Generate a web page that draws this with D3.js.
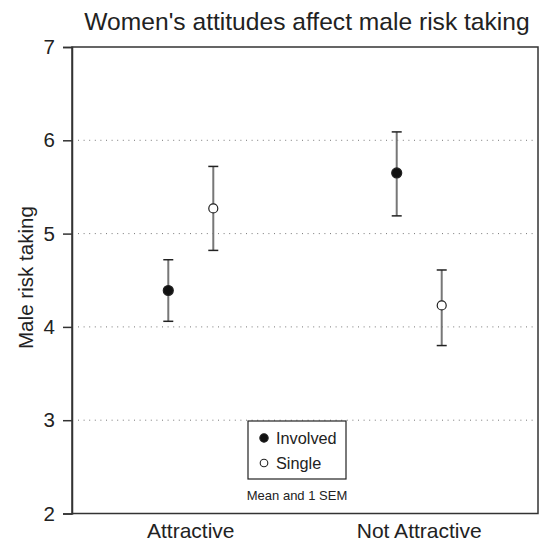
<!DOCTYPE html>
<html>
<head>
<meta charset="utf-8">
<script src="https://cdn.jsdelivr.net/npm/d3@7"></script>
<style>
  body { margin: 0; background: #fff; }
  text { font-family: "Liberation Sans", Arial, Helvetica, sans-serif; fill: #222; }
</style>
</head>
<body>
<div id="chart"></div>
<script>
const categories = ["Attractive", "Not Attractive"];
const groups = ["Involved", "Single"];
const yTicks = [2, 3, 4, 5, 6, 7];
const gridTicks = [3, 4, 5, 6];

const involvedMean = [4.39, 5.65];
const involvedLow = [4.06, 5.19];
const involvedHigh = [4.72, 6.09];

const singleMean = [5.27, 4.23];
const singleLow = [4.82, 3.80];
const singleHigh = [5.72, 4.61];

const width = 542, height = 543;
const plotLeft = 72, plotRight = 538, plotTop = 47, plotBottom = 513.5;

const svg = d3.select("#chart")
    .append("svg")
    .attr("width", width)
    .attr("height", height);

const y = d3.scaleLinear().domain([2, 7]).range([plotBottom, plotTop]);
const x = d3.scalePoint().domain(categories).range([plotLeft, plotRight]).padding(0.52);
const offset = d3.scalePoint().domain(groups).range([-22.5, 22.5]);

// dotted gridlines
svg.append("g")
    .selectAll("line")
    .data(gridTicks)
    .enter()
    .append("line")
    .attr("x1", plotLeft + 6)
    .attr("x2", plotRight - 4)
    .attr("y1", d => y(d))
    .attr("y2", d => y(d))
    .attr("stroke", "#777")
    .attr("stroke-width", 1)
    .attr("stroke-dasharray", "1,4.6");

// frame
svg.append("rect")
    .attr("x", plotLeft)
    .attr("y", plotTop)
    .attr("width", plotRight - plotLeft)
    .attr("height", plotBottom - plotTop)
    .attr("fill", "none")
    .attr("stroke", "#333")
    .attr("stroke-width", 1.5);

// y axis
const yAxis = svg.append("g")
    .attr("transform", `translate(${plotLeft},0)`)
    .call(d3.axisLeft(y).tickValues(yTicks).tickSize(9).tickPadding(8).tickFormat(d3.format("d")));
yAxis.attr("font-family", null).attr("font-size", null);
yAxis.select(".domain").attr("stroke", "#333").attr("stroke-width", 1.5);
yAxis.selectAll(".tick line").attr("stroke", "#333").attr("stroke-width", 1.5);
yAxis.selectAll(".tick text")
    .attr("font-size", 20.5)
    .attr("fill", "#222");

// x labels
svg.append("g")
    .selectAll("text")
    .data(categories)
    .enter()
    .append("text")
    .text(d => d)
    .attr("x", d => x(d))
    .attr("y", 538)
    .attr("text-anchor", "middle")
    .attr("font-size", 21);

// title
svg.append("text")
    .text("Women's attitudes affect male risk taking")
    .attr("x", 307)
    .attr("y", 30)
    .attr("text-anchor", "middle")
    .attr("font-size", 24.6);

// y label
svg.append("text")
    .text("Male risk taking")
    .attr("transform", "translate(33,277.5) rotate(-90)")
    .attr("text-anchor", "middle")
    .attr("font-size", 20.6);

const series = [
    { group: "Involved", mean: involvedMean, low: involvedLow, high: involvedHigh, fill: "#111" },
    { group: "Single", mean: singleMean, low: singleLow, high: singleHigh, fill: "#fff" }
];

const points = [];
series.forEach(s => categories.forEach((c, i) => {
    points.push({ cat: c, group: s.group, mean: s.mean[i], low: s.low[i], high: s.high[i], fill: s.fill });
}));

const px = d => x(d.cat) + offset(d.group);

const bars = svg.append("g")
    .selectAll("g")
    .data(points)
    .enter()
    .append("g");

bars.append("line")
    .attr("x1", px).attr("x2", px)
    .attr("y1", d => y(d.low)).attr("y2", d => y(d.high))
    .attr("stroke", "#777")
    .attr("stroke-width", 2);

bars.selectAll(".cap")
    .data(d => [{ x: px(d), v: d.low }, { x: px(d), v: d.high }])
    .enter()
    .append("line")
    .attr("class", "cap")
    .attr("x1", d => d.x - 5).attr("x2", d => d.x + 5)
    .attr("y1", d => y(d.v)).attr("y2", d => y(d.v))
    .attr("stroke", "#222")
    .attr("stroke-width", 1.5);

bars.append("circle")
    .attr("cx", px)
    .attr("cy", d => y(d.mean))
    .attr("r", d => d.fill === "#fff" ? 4.5 : 5)
    .attr("fill", d => d.fill)
    .attr("stroke", "#222")
    .attr("stroke-width", 1.2);

// legend
const legend = svg.append("g");
legend.append("rect")
    .attr("x", 248).attr("y", 421)
    .attr("width", 98).attr("height", 58)
    .attr("fill", "#fff")
    .attr("stroke", "#222")
    .attr("stroke-width", 1.2);

const items = legend.selectAll(".item")
    .data(series)
    .enter()
    .append("g")
    .attr("class", "item")
    .attr("transform", (d, i) => `translate(264,${438 + i * 25})`);

items.append("circle")
    .attr("r", d => d.fill === "#fff" ? 3.8 : 4.2)
    .attr("fill", d => d.fill)
    .attr("stroke", "#222")
    .attr("stroke-width", 1.1);

items.append("text")
    .text(d => d.group)
    .attr("x", 12)
    .attr("y", 6)
    .attr("font-size", 16.3);

svg.append("text")
    .text("Mean and 1 SEM")
    .attr("x", 297)
    .attr("y", 500)
    .attr("text-anchor", "middle")
    .attr("font-size", 13);
</script>
</body>
</html>
